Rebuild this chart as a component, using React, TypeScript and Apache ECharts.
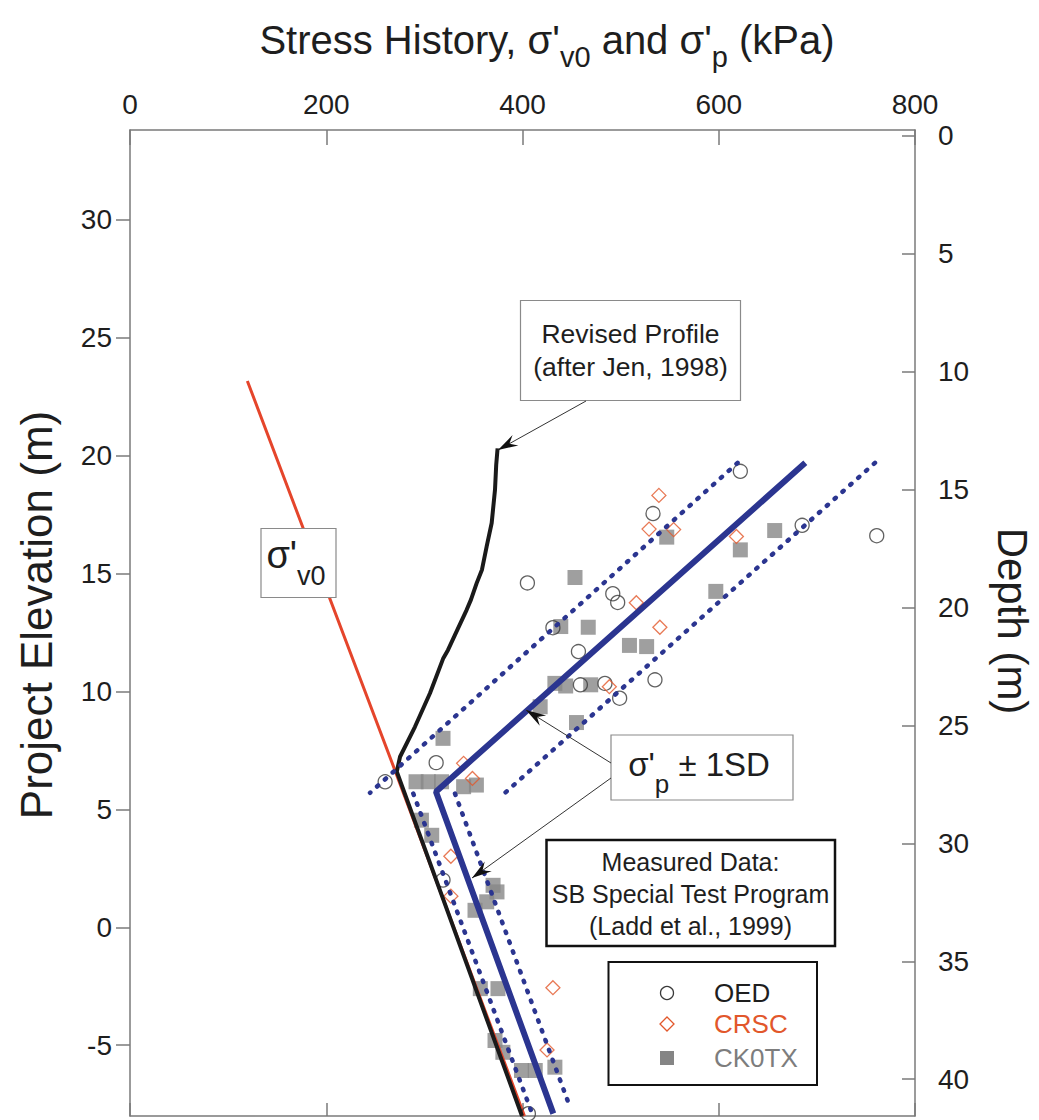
import React, { useEffect, useRef } from 'react';
import * as echarts from 'echarts';

const FONT = "'Liberation Sans', Arial, Helvetica, sans-serif";

// Axis ticks
const xTicks = [0, 200, 400, 600, 800];
const elevTicks = [-5, 0, 5, 10, 15, 20, 25, 30];
const depthTicks = [0, 5, 10, 15, 20, 25, 30, 35, 40];

// Lines: [stress kPa, elevation m]
const sigmaV0Line = [[119.6, 23.16], [270.5, 6.6], [402, -8]];
const revisedProfile = [
  [374.6, 20.3], [373.2, 19.6], [372, 18.56], [368.6, 17.14], [363.5, 16.15],
  [358.7, 15.16], [353.3, 14.59], [347.5, 13.89], [343.1, 13.46], [331.2, 12.4],
  [324.1, 11.76], [319.3, 11.41], [305.7, 9.92], [290.4, 8.5], [275.2, 7.23],
  [271.9, 6.6], [399.5, -8],
];
const sigmaPLine = [[688.2, 19.69], [311.8, 5.75], [431.4, -7.9]];
const sigmaPMinusUpper = [[619.2, 19.69], [244.6, 5.7]];
const sigmaPPlusUpper = [[759.2, 19.69], [382.2, 5.7]];
const sigmaPMinusLower = [[288.7, 5.67], [409.4, -7.85]];
const sigmaPPlusLower = [[331.2, 5.67], [449.1, -7.7]];

// Measured data
const oedData = [
  [405, 14.6], [492, 14.14], [497, 13.77], [431, 12.7], [457, 11.69], [622, 19.33],
  [533, 17.54], [685, 17.04], [761, 16.6], [459, 10.28], [484, 10.34], [499, 9.71],
  [535, 10.49], [312, 6.98], [260, 6.17], [319, 2.0], [406, -7.9],
];
const crscData = [
  [516, 13.76], [539, 18.31], [529, 16.88], [554, 16.86], [618, 16.57], [540, 12.72],
  [488.5, 10.2], [340, 6.95], [349, 6.31], [327, 3.01], [327, 1.32], [431, -2.56], [425, -5.2],
];
const ck0txData = [
  [453.5, 14.83], [439, 12.75], [467, 12.72], [509, 11.95], [526.5, 11.9], [547, 16.54],
  [622, 16.0], [657, 16.82], [597, 14.24], [433, 10.34], [444, 10.23], [469.5, 10.28],
  [418, 9.35], [455, 8.68], [319, 8.01], [291.5, 6.17], [304, 6.17], [317.5, 6.17],
  [340, 5.96], [353, 6.03], [297, 4.54], [307.5, 3.9], [370, 1.78], [374, 1.5],
  [363.5, 1.08], [351.6, 0.72], [357, -2.6], [375, -2.6], [372, -4.8], [380, -5.3],
  [399, -6.07], [413, -6.07], [433, -5.93],
];

// Annotation arrows (pixel): tail -> tip
const arrows = [
  { tail: [586, 401], tip: [498, 450] },
  { tail: [611, 763], tip: [526, 710] },
  { tail: [611, 778], tip: [472, 878] },
];

const BLUE = '#2b3590';
const ORANGE = '#e2572b';
const TEXT = '#1e1e1e';
const AXIS = '#7a7a7a';

function arrowHead(tip: number[], tail: number[]) {
  const dx = tail[0] - tip[0];
  const dy = tail[1] - tip[1];
  const L = Math.hypot(dx, dy);
  const ux = dx / L, uy = dy / L;
  const nx = -uy, ny = ux;
  const len = 20, half = 6, notch = 13;
  return [
    [tip[0], tip[1]],
    [tip[0] + ux * len + nx * half, tip[1] + uy * len + ny * half],
    [tip[0] + ux * notch, tip[1] + uy * notch],
    [tip[0] + ux * len - nx * half, tip[1] + uy * len - ny * half],
  ];
}

function dotted(data: number[][]) {
  return {
    type: 'line',
    data,
    showSymbol: false,
    symbol: 'none',
    z: 5,
    lineStyle: { color: BLUE, width: 4.5, type: [1.5, 9], cap: 'round' },
  };
}

export default function App() {
  const ref = useRef<HTMLDivElement>(null);
  useEffect(() => {
    if (!ref.current) return;
    const chart = echarts.init(ref.current, null, { renderer: 'svg' });

    const graphic: any[] = [
      {
        type: 'text', x: 547, y: 40, z: 100,
        style: {
          text: "{m|Stress History, σ'}{s|v0}{m| and σ'}{s|p}{m| (kPa)}",
          align: 'center', verticalAlign: 'middle',
          rich: {
            m: { fontSize: 40, fontFamily: FONT, fill: TEXT },
            s: { fontSize: 29, fontFamily: FONT, fill: TEXT, padding: [34, 0, 0, 0] },
          },
        },
      },
      {
        type: 'text', x: 36, y: 615, rotation: Math.PI / 2, z: 100,
        style: { text: 'Project Elevation (m)', fontSize: 44, fontFamily: FONT, fill: TEXT, align: 'center', verticalAlign: 'middle' },
      },
      {
        type: 'text', x: 1012, y: 621, rotation: -Math.PI / 2, z: 100,
        style: { text: 'Depth (m)', fontSize: 42, fontFamily: FONT, fill: TEXT, align: 'center', verticalAlign: 'middle' },
      },
      // Revised profile box
      {
        type: 'rect', z: 100, shape: { x: 520.5, y: 300.5, width: 220, height: 100 },
        style: { fill: '#fff', stroke: '#8a8a8a', lineWidth: 1.2 },
      },
      {
        type: 'text', x: 630.5, y: 350, z: 101,
        style: { text: 'Revised Profile\n(after Jen, 1998)', fontSize: 26.5, lineHeight: 33, fontFamily: FONT, fill: TEXT, align: 'center', verticalAlign: 'middle' },
      },
      // sigma v0 box
      {
        type: 'rect', z: 100, shape: { x: 261, y: 528.5, width: 75, height: 69 },
        style: { fill: '#fff', stroke: '#8a8a8a', lineWidth: 1.2 },
      },
      {
        type: 'text', x: 296, y: 555, z: 101,
        style: {
          text: "{m|σ'}{s|v0}", align: 'center', verticalAlign: 'middle',
          rich: {
            m: { fontSize: 38, fontFamily: FONT, fill: TEXT },
            s: { fontSize: 27, fontFamily: FONT, fill: TEXT, padding: [42, 0, 0, 0] },
          },
        },
      },
      // sigma p box
      {
        type: 'rect', z: 100, shape: { x: 611, y: 735, width: 182, height: 65 },
        style: { fill: '#fff', stroke: '#8a8a8a', lineWidth: 1.2 },
      },
      {
        type: 'text', x: 699, y: 764, z: 101,
        style: {
          text: "{m|σ'}{s|p}{m| ± 1SD}", align: 'center', verticalAlign: 'middle',
          rich: {
            m: { fontSize: 33, fontFamily: FONT, fill: TEXT },
            s: { fontSize: 26, fontFamily: FONT, fill: TEXT, padding: [40, 0, 0, 0] },
          },
        },
      },
      // Measured data box
      {
        type: 'rect', z: 100, shape: { x: 546.5, y: 840, width: 288.5, height: 106 },
        style: { fill: '#fff', stroke: '#111', lineWidth: 2.5 },
      },
      {
        type: 'text', x: 690.5, y: 894, z: 101,
        style: { text: 'Measured Data:\nSB Special Test Program\n(Ladd et al., 1999)', fontSize: 25, lineHeight: 32, fontFamily: FONT, fill: TEXT, align: 'center', verticalAlign: 'middle' },
      },
      // Legend box
      {
        type: 'rect', z: 100, shape: { x: 608.5, y: 962, width: 208.5, height: 123 },
        style: { fill: '#fff', stroke: '#111', lineWidth: 2 },
      },
      {
        type: 'circle', z: 101, shape: { cx: 667, cy: 993, r: 6.5 },
        style: { fill: 'none', stroke: '#3a3a3a', lineWidth: 1.3 },
      },
      {
        type: 'polygon', z: 101, shape: { points: [[667, 1017], [674, 1024], [667, 1031], [660, 1024]] },
        style: { fill: 'none', stroke: ORANGE, lineWidth: 1.3 },
      },
      {
        type: 'rect', z: 101, shape: { x: 660, y: 1051, width: 14, height: 14 },
        style: { fill: '#858585' },
      },
      {
        type: 'text', x: 714, y: 993, z: 101,
        style: { text: 'OED', fontSize: 26, fontFamily: FONT, fill: TEXT, align: 'left', verticalAlign: 'middle' },
      },
      {
        type: 'text', x: 714, y: 1024, z: 101,
        style: { text: 'CRSC', fontSize: 26, fontFamily: FONT, fill: ORANGE, align: 'left', verticalAlign: 'middle' },
      },
      {
        type: 'text', x: 714, y: 1058, z: 101,
        style: { text: 'CK0TX', fontSize: 26, fontFamily: FONT, fill: '#7d7d7d', align: 'left', verticalAlign: 'middle' },
      },
    ];
    arrows.forEach((a) => {
      graphic.push({
        type: 'line', z: 102,
        shape: { x1: a.tail[0], y1: a.tail[1], x2: a.tip[0], y2: a.tip[1] },
        style: { stroke: '#333', lineWidth: 1 },
      });
      graphic.push({
        type: 'polygon', z: 103,
        shape: { points: arrowHead(a.tip, a.tail) },
        style: { fill: '#111' },
      });
    });

    const axisLine = { show: true, onZero: false, lineStyle: { color: AXIS, width: 1.5 } };
    const labelStyle = { fontSize: 28, fontFamily: FONT, color: TEXT };

    const option: any = {
      animation: false,
      backgroundColor: '#fff',
      grid: { left: 130, top: 130, width: 785, height: 986, containLabel: false },
      xAxis: [
        {
          type: 'value', position: 'top', min: 0, max: 800, interval: 200,
          axisLine, splitLine: { show: false },
          axisTick: { show: true, inside: true, length: 15, lineStyle: { color: AXIS, width: 1.5 } },
          axisLabel: { ...labelStyle, margin: 12, customValues: xTicks },
        },
        {
          type: 'value', position: 'bottom', min: 0, max: 800, interval: 200,
          axisLine, splitLine: { show: false },
          axisTick: { show: true, inside: true, length: 13, lineStyle: { color: AXIS, width: 1.5 } },
          axisLabel: { show: false },
        },
      ],
      yAxis: [
        {
          type: 'value', position: 'left', min: -8, max: 33.8, splitNumber: 8,
          axisLine, splitLine: { show: false },
          axisTick: { show: true, inside: false, length: 14, customValues: elevTicks, lineStyle: { color: AXIS, width: 1.5 } },
          axisLabel: { ...labelStyle, margin: 18, customValues: elevTicks },
        },
        {
          type: 'value', position: 'right', inverse: true, min: -0.24, max: 41.56, splitNumber: 8,
          axisLine, splitLine: { show: false },
          axisTick: { show: true, inside: true, length: 13, customValues: depthTicks, lineStyle: { color: AXIS, width: 1.5 } },
          axisLabel: { ...labelStyle, margin: 23, customValues: depthTicks },
        },
      ],
      series: [
        {
          name: 'CK0TX', type: 'scatter', data: ck0txData, symbol: 'rect', symbolSize: 15, z: 2,
          itemStyle: { color: '#878787' },
        },
        {
          name: 'OED', type: 'scatter', data: oedData, symbol: 'circle', symbolSize: 14, z: 3,
          itemStyle: { color: 'rgba(255,255,255,0)', borderColor: '#3a3a3a', borderWidth: 1.3 },
        },
        {
          name: 'CRSC', type: 'scatter', data: crscData, symbol: 'diamond', symbolSize: 14, z: 3,
          itemStyle: { color: 'rgba(255,255,255,0)', borderColor: ORANGE, borderWidth: 1.3 },
        },
        {
          name: "σ'v0", type: 'line', data: sigmaV0Line, showSymbol: false, symbol: 'none', z: 3,
          lineStyle: { color: '#e5452b', width: 3 },
        },
        {
          name: 'Revised Profile', type: 'line', data: revisedProfile, showSymbol: false, symbol: 'none', z: 4,
          lineStyle: { color: '#1a1a1a', width: 4 },
        },
        {
          name: "σ'p", type: 'line', data: sigmaPLine, showSymbol: false, symbol: 'none', z: 5,
          lineStyle: { color: BLUE, width: 6 },
        },
        dotted(sigmaPMinusUpper),
        dotted(sigmaPPlusUpper),
        dotted(sigmaPMinusLower),
        dotted(sigmaPPlusLower),
      ],
      graphic,
    };
    chart.setOption(option);
    return () => chart.dispose();
  }, []);

  return (
    <div
      ref={ref}
      style={{ position: 'absolute', left: 0, top: 0, width: 1039, height: 1120, background: '#fff' }}
    />
  );
}
